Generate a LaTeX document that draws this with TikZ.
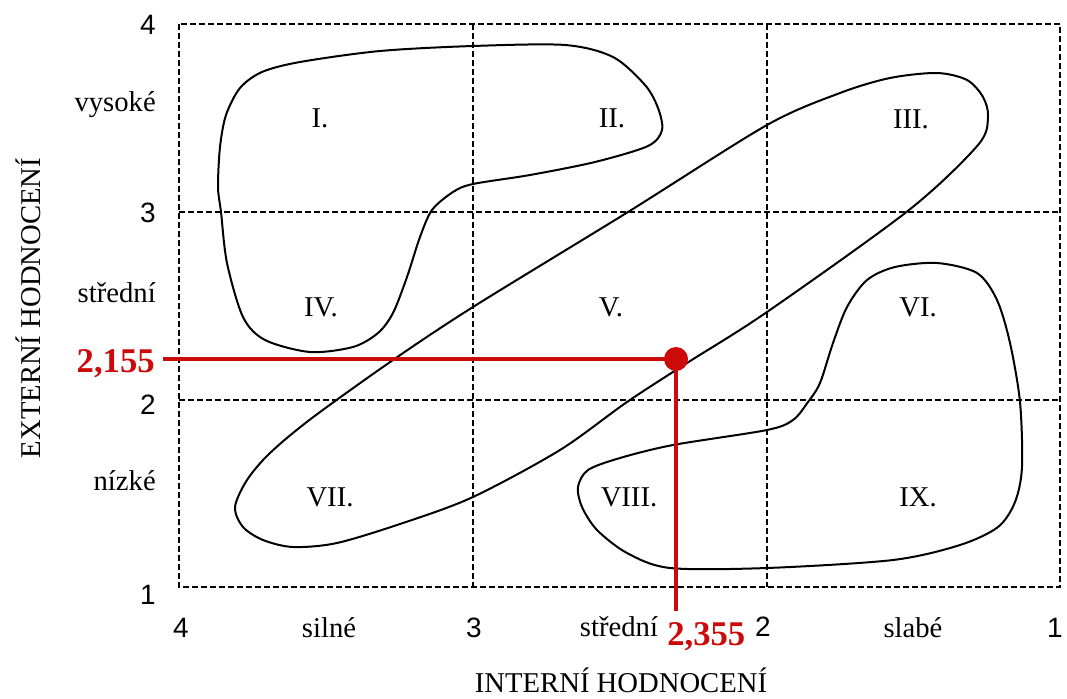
\documentclass[tikz,border=0pt]{standalone}
\usepackage{fontspec}
\setmainfont{Liberation Serif}
\newfontfamily\numfont{Liberation Sans}
\usetikzlibrary{positioning}
\definecolor{hcolor}{HTML}{CC0A0A}

\begin{document}
\begin{tikzpicture}[
    x=0.75pt, y=-0.75pt,
    grid/.style={dash pattern=on 4.5pt off 2.25pt, line width=0.9pt},
    zone/.style={line width=1.5pt},
    lbl/.style={font=\fontsize{21.5}{24}\selectfont, inner sep=0pt},
    num/.style={font=\numfont\fontsize{21}{24}\selectfont, inner sep=0pt},
    val/.style={font=\bfseries\fontsize{26}{30}\selectfont, text=hcolor, inner sep=0pt},
    mark line/.style={hcolor, line width=3pt},
  ]
    \useasboundingbox (0,0) rectangle (1067,699);

    % grid
    \draw[grid] (179,24) rectangle (1060,587);
    \draw[grid] (473,24) -- (473,587);
    \draw[grid] (767,24) -- (767,587);
    \draw[grid] (179,212) -- (1060,212);
    \draw[grid] (179,400) -- (1060,400);

    % zones
    \draw[zone] plot[smooth cycle, tension=0.5] coordinates {
      (218,187) (220,147) (226,115) (240,88) (262,72) (300,62) (380,51)
      (473,46) (565,45) (613,57) (645,85) (658,108) (662,130) (648,146)
      (595,162) (530,175) (473,184) (453,192) (432,210) (420,237) (407,277)
      (393,313) (378,333) (353,347) (310,352) (265,340) (243,317) (227,263)
      (221,212)};
    \draw[zone] plot[smooth cycle, tension=0.5] coordinates {
      (235,507) (247,480) (270,453) (312,418) (393,360) (473,307) (628,212)
      (767,125) (840,93) (890,78) (937,73) (967,80) (983,97) (988,117)
      (978,145) (909,210) (767,312) (687,363) (627,402) (560,450)
      (473,497) (403,523) (337,543) (293,547) (263,540) (243,527)};
    \draw[zone] plot[smooth cycle, tension=0.5] coordinates {
      (937,263) (977,273) (997,300) (1010,343) (1020,402) (1022,467)
      (1015,502) (998,527) (960,545) (893,560) (767,568) (670,568) (627,553)
      (597,530) (582,507) (578,487) (588,470) (620,458) (673,445) (767,430)
      (793,420) (808,402) (820,383) (833,343) (847,307) (867,280) (895,267)};

    % zone labels
    \node[lbl] (z1) at (320,118) {I.};
    \node[lbl] (z2) at (612,118) {II.};
    \node[lbl] (z3) at (911,119) {III.};
    \node[lbl] (z4) at (321,307) {IV.};
    \node[lbl] (z5) at (611,307) {V.};
    \node[lbl] (z6) at (918,307) {VI.};
    \node[lbl] (z7) at (330,497) {VII.};
    \node[lbl] (z8) at (629,497) {VIII.};
    \node[lbl] (z9) at (918,497) {IX.};

    % vertical axis
    \node[num, anchor=base east] (e4) at (156,35) {4};
    \node[lbl, anchor=base east] (ehigh) at (156,111) {vysoké};
    \node[num, anchor=base east] (e3) at (156,222) {3};
    \node[lbl, anchor=base east] (emid) at (156,302) {střední};
    \node[num, anchor=base east] (e2) at (156,414) {2};
    \node[lbl, anchor=base east] (elow) at (156,490) {nízké};
    \node[num, anchor=base east] (e1) at (156,604) {1};
    \node[lbl, rotate=90, anchor=base] (etitle) at (40,308) {EXTERNÍ HODNOCENÍ};

    % horizontal axis
    \node[num, anchor=base] (i4) at (181,637) {4};
    \node[lbl, anchor=base] (istrong) at (329,637) {silné};
    \node[num, anchor=base] (i3) at (474,637) {3};
    \node[lbl, anchor=base] (imid) at (619,636) {střední};
    \node[num, anchor=base] (i2) at (763,636) {2};
    \node[lbl, anchor=base] (iweak) at (913,637) {slabé};
    \node[num, anchor=base] (i1) at (1055,637) {1};
    \node[lbl, anchor=base] (ititle) at (621,692) {INTERNÍ HODNOCENÍ};

    % evaluated position
    \node[circle, fill=hcolor, inner sep=0pt, minimum size=18pt] (pos) at (676,359) {};
    \coordinate (hstart) at (163,359);
    \coordinate (vend) at (676,611);
    \draw[mark line] (hstart) -- (pos.center);
    \draw[mark line] (pos.center) -- (vend);
    \node[val, anchor=base east] (evalue) at (155,372) {2,155};
    \node[val, anchor=base west] (ivalue) at (667,645) {2,355};
  \end{tikzpicture}
\end{document}
